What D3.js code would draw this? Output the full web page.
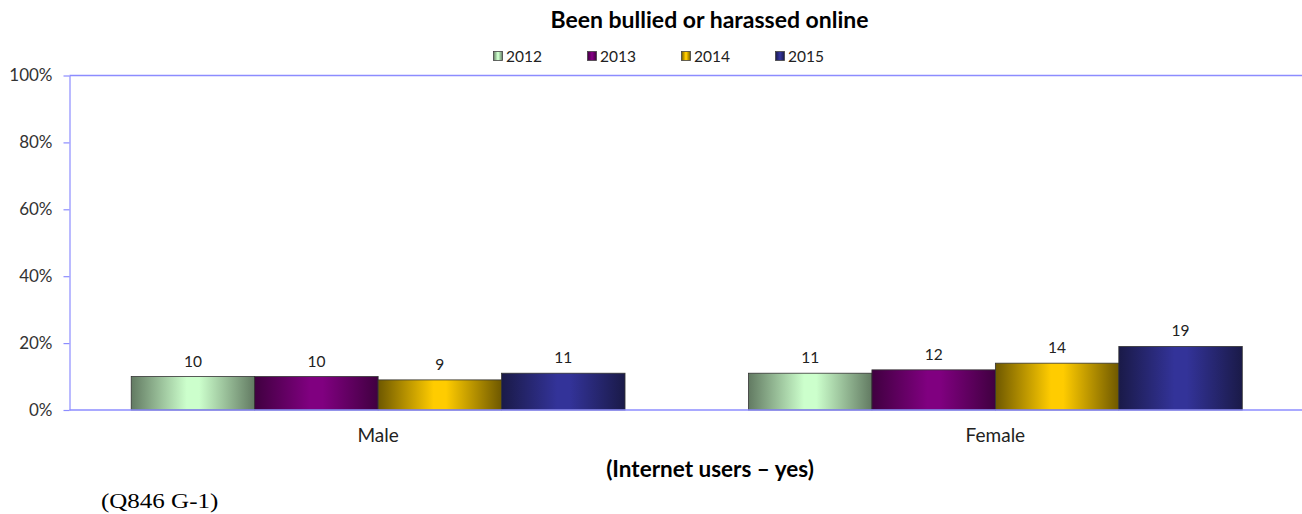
<!DOCTYPE html>
<html><head><meta charset="utf-8">
<script src="https://cdn.jsdelivr.net/npm/d3@7"></script>
<style>body{margin:0;background:#fff;}svg{display:block;}</style>
</head><body>
<svg id="c" width="1302" height="514"></svg>
<script>
const categories = ["Male", "Female"];
const years = ["2012", "2013", "2014", "2015"];
const v2012 = [10, 11];
const v2013 = [10, 12];
const v2014 = [9, 14];
const v2015 = [11, 19];
const yTicks = [0, 20, 40, 60, 80, 100];
const title = "Been bullied or harassed online";
const xTitle = "(Internet users \u2013 yes)";
const note = "(Q846 G-1)";

const series = [v2012, v2013, v2014, v2015];
const colors = [
  {edge:"#627a62", mid:"#ccffcc"},
  {edge:"#400040", mid:"#800080"},
  {edge:"#6e5800", mid:"#ffcc00"},
  {edge:"#1a1a48", mid:"#333399"}
];
const font = "Lato,'Open Sans',sans-serif";
const svg = d3.select("#c");
const pLeft = 69.5, pRight = 1304, pTop = 75.5, pBottom = 410;

const x0 = d3.scaleBand().domain(categories).range([pLeft, pRight]).paddingInner(0).paddingOuter(0);
const x1 = d3.scaleBand().domain(years).range([0, x0.bandwidth()]).paddingOuter(0.5).paddingInner(0);
const y = d3.scaleLinear().domain([0, 100]).range([pBottom, pTop]);

const defs = svg.append("defs");
colors.forEach((c, i) => {
  const g = defs.append("linearGradient").attr("id", "g" + i).attr("x1", "0").attr("x2", "1").attr("y1", "0").attr("y2", "0");
  g.append("stop").attr("offset", "0%").attr("stop-color", c.edge);
  g.append("stop").attr("offset", "45%").attr("stop-color", c.mid);
  g.append("stop").attr("offset", "55%").attr("stop-color", c.mid);
  g.append("stop").attr("offset", "100%").attr("stop-color", c.edge);
});

// title
svg.append("text").attr("x", 709.5).attr("y", 28).attr("text-anchor", "middle")
  .attr("font-family", font).attr("font-weight", "bold").attr("font-size", 23).attr("fill", "#000").text(title);

// legend
const lg = svg.append("g");
years.forEach((yr, i) => {
  const lx = 493 + i * 94;
  lg.append("rect").attr("x", lx + 0.5).attr("y", 51.5).attr("width", 9).attr("height", 9)
    .attr("fill", `url(#g${i})`).attr("stroke", "#444").attr("stroke-width", 0.8);
  lg.append("text").attr("x", lx + 13).attr("y", 61.5).attr("font-family", font).attr("font-size", 15.5)
    .attr("fill", "#222").text(yr);
});

// top border line
svg.append("line").attr("x1", pLeft).attr("x2", 1302).attr("y1", y(100)).attr("y2", y(100))
  .attr("stroke", "#8c8cff").attr("stroke-width", 1.5);

// y axis
const yAxis = svg.append("g").attr("transform", `translate(${pLeft},0)`)
  .call(d3.axisLeft(y).tickValues(yTicks).tickFormat(d => d + "%").tickSize(6).tickSizeOuter(0));
yAxis.select(".domain").attr("stroke", "#8c8cff").attr("stroke-width", 1.2);
yAxis.selectAll(".tick line").attr("stroke", "#8c8cff").attr("stroke-width", 1.2);
yAxis.selectAll(".tick text").attr("font-family", font).attr("font-size", 17).attr("fill", "#333").attr("x", -17);

// bars
const groups = svg.append("g").selectAll("g").data(categories).join("g")
  .attr("transform", d => `translate(${x0(d)},0)`);
groups.each(function(cat, ci) {
  const g = d3.select(this);
  years.forEach((yr, si) => {
    const val = series[si][ci];
    g.append("rect").attr("x", x1(yr)).attr("y", y(val)).attr("width", x1.bandwidth()).attr("height", y(0) - y(val))
      .attr("fill", `url(#g${si})`).attr("stroke", "#333").attr("stroke-width", 0.8);
    g.append("text").attr("x", x1(yr) + x1.bandwidth() / 2).attr("y", y(val) - 10)
      .attr("text-anchor", "middle").attr("font-family", font).attr("font-size", 15.5).attr("fill", "#222").text(val);
  });
});

// x axis
const xAxis = svg.append("g").attr("transform", `translate(0,${pBottom})`)
  .call(d3.axisBottom(x0).tickSize(0).tickSizeOuter(0));
xAxis.select(".domain").attr("stroke", "#8c8cff").attr("stroke-width", 1.5).attr("d", `M${pLeft},0H1302`);
xAxis.selectAll(".tick text").attr("font-family", font).attr("font-size", 19).attr("fill", "#222").attr("dy", 29);

svg.append("text").attr("x", 710).attr("y", 477).attr("text-anchor", "middle")
  .attr("font-family", font).attr("font-weight", "bold").attr("font-size", 22.5).attr("fill", "#000").text(xTitle);

svg.append("text").attr("transform", "translate(101,508) scale(1.25,1)").attr("font-family", "'Liberation Serif',serif")
  .attr("font-size", 20).attr("fill", "#000").text(note);
</script>
</body></html>
